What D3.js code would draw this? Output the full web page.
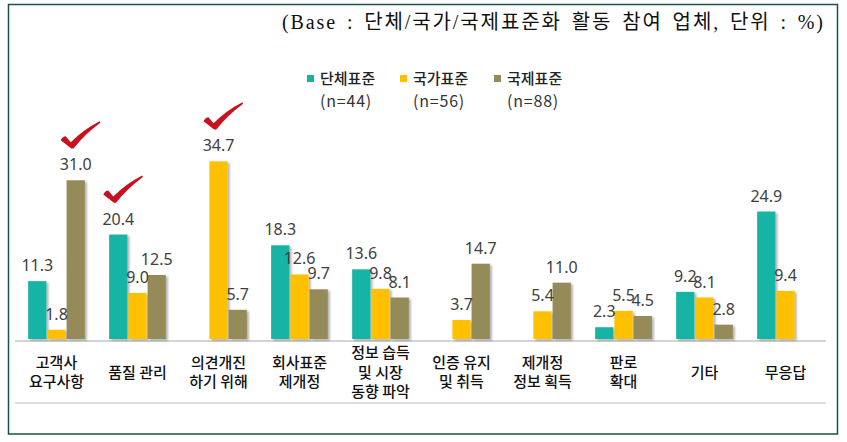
<!DOCTYPE html>
<html>
<head>
<meta charset="utf-8">
<script src="https://cdn.jsdelivr.net/npm/d3@7"></script>
<style>
  body { margin: 0; background: #fff; }
  svg { display: block; }
</style>
</head>
<body>
<svg id="chart" width="847" height="442"></svg>
<script>
const categories = ['고객사\n요구사항', '품질 관리', '의견개진\n하기 위해', '회사표준\n제개정', '정보 습득\n및 시장\n동향 파악',
    '인증 유지\n및 취득', '제개정\n정보 획득', '판로\n확대', '기타', '무응답'];
const seriesNames = ['단체표준', '국가표준', '국제표준'];
const seriesN = ['(n=44)', '(n=56)', '(n=88)'];
const groupValues = [11.3, 20.4, null, 18.3, 13.6, null, null, 2.3, 9.2, 24.9];
const nationalValues = [1.8, 9.0, 34.7, 12.6, 9.8, 3.7, 5.4, 5.5, 8.1, 9.4];
const internationalValues = [31.0, 12.5, 5.7, 9.7, 8.1, 14.7, 11.0, 4.5, 2.8, null];
// which bars get the red check mark: [category index, series index]
const checked = [[0, 2], [1, 0], [2, 1]];
const colors = ['#17b4a4', '#ffc000', '#958b58'];
const title = '(Base : 단체/국가/국제표준화 활동 참여 업체, 단위 : %)';

const allSeries = [groupValues, nationalValues, internationalValues];

const svg = d3.select('#chart');

// drop shadow for bars
const defs = svg.append('defs');
const f = defs.append('filter').attr('id', 'shadow').attr('x', '-20%').attr('y', '-20%').attr('width', '150%').attr('height', '150%');
f.append('feDropShadow').attr('dx', 2).attr('dy', 1.5).attr('stdDeviation', 1.2)
    .attr('flood-color', '#000').attr('flood-opacity', 0.3);

// frame
svg.append('rect')
    .attr('x', 8.5).attr('y', 4.5).attr('width', 829).attr('height', 429.5)
    .attr('fill', 'none').attr('stroke', '#1d4f4c').attr('stroke-width', 1.5);

// title: wide spaced like the original
svg.append('text')
    .attr('x', 282).attr('y', 29)
    .attr('textLength', 543)
    .attr('lengthAdjust', 'spacing')
    .attr('font-family', '"Liberation Serif", "Noto Sans CJK KR", serif')
    .attr('font-size', 20)
    .attr('letter-spacing', 2)
    .attr('word-spacing', 3)
    .attr('fill', '#111')
    .text(title);

const x = d3.scaleBand().domain(categories).range([16, 826]).paddingInner(0.3).paddingOuter(0.15);
const xs = d3.scaleBand().domain(d3.range(seriesNames.length)).range([0, x.bandwidth()]).paddingInner(0.05);
const y = d3.scaleLinear().domain([0, 40]).range([339, 134.2]);

// legend
const legendX = [307, 400, 494];
const legend = svg.append('g');
seriesNames.forEach((name, i) => {
    const lg = legend.append('g').attr('transform', `translate(${legendX[i]},0)`);
    lg.append('rect').attr('x', 0).attr('y', 75).attr('width', 7).attr('height', 7).attr('fill', colors[i]);
    lg.append('text').attr('x', 13).attr('y', 84)
        .attr('font-family', '"Noto Sans CJK KR", sans-serif').attr('font-size', 15)
        .attr('font-weight', 500).attr('fill', '#222')
        .text(name);
    lg.append('text').attr('x', 13).attr('y', 107)
        .attr('font-family', '"Noto Sans CJK KR", sans-serif').attr('font-size', 16)
        .attr('letter-spacing', 0.8).attr('fill', '#333')
        .text(seriesN[i]);
});

// baseline and bottom rule
svg.append('line').attr('x1', 15).attr('x2', 826).attr('y1', 341).attr('y2', 341)
    .attr('stroke', '#d4d4d4').attr('stroke-width', 2);
svg.append('line').attr('x1', 15).attr('x2', 826).attr('y1', 403).attr('y2', 403)
    .attr('stroke', '#dcdcdc').attr('stroke-width', 2);

const bars = [];
categories.forEach((c, ci) => {
    allSeries.forEach((vals, si) => {
        if (vals[ci] != null) bars.push({cat: c, ci, si, value: vals[ci]});
    });
});

const plot = svg.append('g');
plot.selectAll('rect.bar')
    .data(bars)
    .join('rect')
    .attr('class', 'bar')
    .attr('x', d => x(d.cat) + xs(d.si))
    .attr('width', xs.bandwidth())
    .attr('y', d => y(d.value))
    .attr('height', d => y(0) - y(d.value))
    .attr('fill', d => colors[d.si])
    .attr('filter', 'url(#shadow)');

plot.selectAll('text.val')
    .data(bars)
    .join('text')
    .attr('class', 'val')
    .attr('x', d => x(d.cat) + xs(d.si) + xs.bandwidth() / 2)
    .attr('y', d => y(d.value) - 10)
    .attr('text-anchor', 'middle')
    .attr('font-family', '"Noto Sans", sans-serif')
    .attr('font-size', 16)
    .attr('fill', '#404040')
    .text(d => d.value.toFixed(1));

// check marks
const checkPath = 'M -11 -6 Q -9 -10 -6 -10 L -1 -4 Q 12 -17 28 -25 Q 29 -24 28 -23 Q 13 -12 2 2 Q 0 3 -2 1 Z';
plot.selectAll('path.check')
    .data(checked)
    .join('path')
    .attr('class', 'check')
    .attr('transform', d => `translate(${x(categories[d[0]]) + xs(d[1]) + xs.bandwidth() / 2 - 4},${y(allSeries[d[1]][d[0]]) - 34})`)
    .attr('d', checkPath)
    .attr('fill', '#c8101e');

// category labels
const lineH = 19.5;
svg.append('g').selectAll('text.cat')
    .data(categories)
    .join('text')
    .attr('class', 'cat')
    .attr('text-anchor', 'middle')
    .attr('font-family', '"Noto Sans CJK KR", sans-serif')
    .attr('font-size', 15)
    .attr('font-weight', 500)
    .attr('fill', '#111')
    .each(function(d) {
        const lines = d.split('\n');
        const t = d3.select(this);
        const top = 372.5 - (lines.length - 1) * lineH / 2;
        lines.forEach((ln, i) => {
            t.append('tspan')
                .attr('x', x(d) + x.bandwidth() / 2)
                .attr('y', top + i * lineH + 5)
                .text(ln);
        });
    });
</script>
</body>
</html>
